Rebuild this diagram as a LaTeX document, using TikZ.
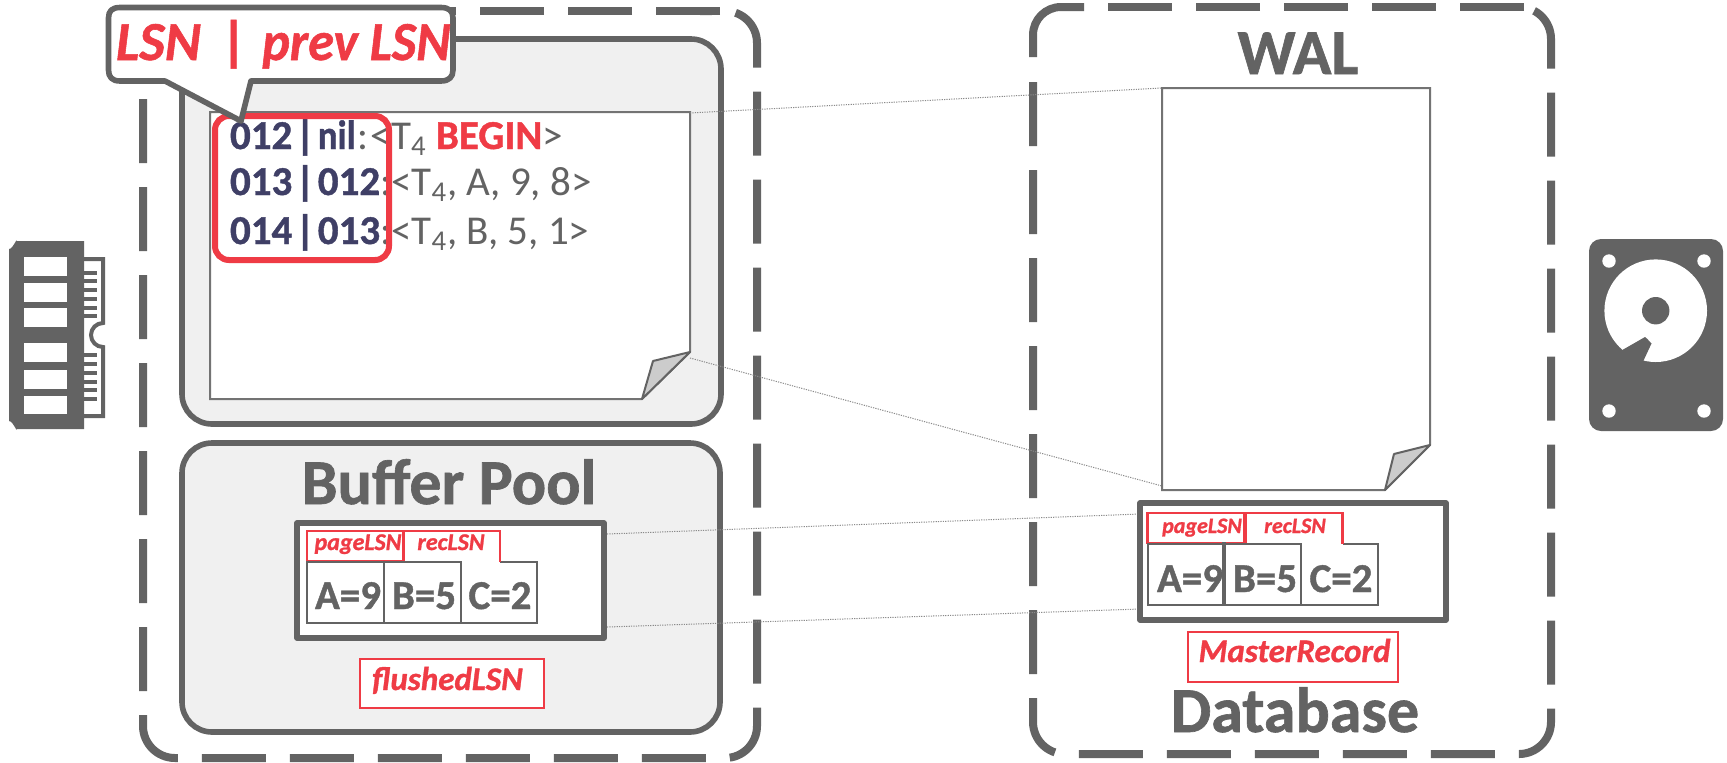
\documentclass[tikz,border=0pt]{standalone}
\usepackage{graphicx}
\usepackage{fontspec}
\setmainfont{Carlito}[BoldFeatures={FakeBold=1},BoldItalicFeatures={FakeBold=1}]
\definecolor{dk}{HTML}{636363}
\definecolor{lg}{HTML}{F0F0F0}
\definecolor{rd}{HTML}{EF3B45}
\definecolor{nv}{HTML}{3F3F66}
\definecolor{fold}{HTML}{CCCCCC}
\newcommand{\fs}[1]{\fontsize{#1}{#1}\selectfont}
\tikzset{
 txt/.style={inner sep=0pt,outer sep=0pt},
 outerdash/.style={draw=dk,line width=4pt,dash pattern=on 32pt off 12pt,rounded corners=16pt},
 panel/.style={draw=dk,line width=2.8pt,fill=lg,rounded corners=15pt},
 sheet/.style={draw=dk!90,line width=1pt,fill=white},
 foldflap/.style={draw=dk,line width=1pt,fill=fold,line join=round},
 pageframe/.style={draw=dk,line width=2.8pt,fill=white,line join=round},
 redtab/.style={draw=rd,line width=1.2pt},
 cell/.style={draw=dk,line width=1pt},
 dots/.style={draw=dk!75,line width=0.5pt,dash pattern=on 0.6pt off 0.6pt},
 cellval/.style={txt,anchor=base,text=dk,font=\fs{20.5}\bfseries},
 tabtxt/.style={txt,anchor=base,text=rd,font=\fs{12}\bfseries\itshape},
 tabtxtb/.style={txt,anchor=base,text=rd,font=\fs{11}\bfseries\itshape},
 redtxt/.style={txt,anchor=base,text=rd,font=\fs{16.5}\bfseries\itshape},
 title/.style={txt,anchor=base,text=dk,font=\fs{32}\bfseries},
 logtxt/.style={txt,anchor=base west,text=dk,font=\fs{20.5}},
}
\newcommand{\lsn}[1]{\textcolor{nv}{\bfseries #1}}
\newcommand{\vbarsep}{\kern1.5pt|\kern1.5pt}
\begin{document}
\begin{tikzpicture}[x=0.5pt,y=-0.5pt]
\useasboundingbox (0,0) rectangle (1727,762);
% outer dashed box, left
\draw[outerdash] (143,99) -- (143,758) -- (757,758) -- (757,11) -- (700,11);
\draw[draw=dk,line width=4pt,dash pattern=on 32pt off 12pt] (720,11) -- (392,11);
% outer dashed box, right
\draw[outerdash] (1033,82) -- (1033,754) -- (1551,754) -- (1551,7) -- (1515,7);
\draw[draw=dk,line width=4pt,dash pattern=on 32pt off 12pt] (1524,7) -- (1108,7);
\draw[draw=dk,line width=4pt,rounded corners=14pt] (1033,57) -- (1033,7) -- (1084,7);
% left log panel
\draw[panel] (182,39) rectangle (721,424);
\draw[sheet] (210,112) -- (690,112) -- (690,352) -- (642,399) -- (210,399) -- cycle;
\draw[foldflap] (690,352) -- (653,361) -- (642,399) -- cycle;
% buffer pool panel
\draw[panel] (182,443) rectangle (720,732);
\node[title] (bptitle) at (449,504) {Buffer Pool};
% dotted connectors
\coordinate (la) at (690,113); \coordinate (ra) at (1162,88);
\coordinate (lb) at (690,358); \coordinate (rb) at (1162,486);
\coordinate (lc) at (607,534); \coordinate (rc) at (1140,514);
\coordinate (ld) at (607,627); \coordinate (rd) at (1140,609);
\draw[dots] (la) -- (ra);
\draw[dots] (lb) -- (rb);
\draw[dots] (lc) -- (rc);
\draw[dots] (ld) -- (rd);
% memory page
\draw[pageframe] (297,523) rectangle (604,638);
\draw[cell] (460.5,562) rectangle (537,623);
\fill[white] (403.5,531) rectangle (500,563.5);
\draw[redtab] (403.5,531) -- (500,531) -- (500,562);
\draw[redtab,fill=white] (307,531) rectangle (403.5,561);
\draw[draw=rd,line width=1.8pt] (403.5,531) -- (403.5,561);
\draw[cell] (307,562) rectangle (384,623);
\draw[cell] (384,562) rectangle (460.5,623);
\node[cellval] (ma) at (348,609) {A=9};
\node[cellval] (mb) at (424,609) {B=5};
\node[cellval] (mc) at (500,609) {C=2};
\node[tabtxt] (mp) at (358,550) {pageLSN};
\node[tabtxt] (mr) at (451,550) {recLSN};
\node[draw=rd,line width=1.2pt,fill=white,minimum width=92pt,minimum height=24.5pt,inner sep=0pt] (flbox) at (452,683.5) {};
\node[redtxt] (fl) at (447.5,690) {flushedLSN};
% log text
\node[logtxt] (l1) at (230,149) {\lsn{012\vbarsep\scalebox{0.9}[1]{nil}}\kern1pt:\kern1pt<T\textsubscript{4} \textcolor{rd}{\bfseries BEGIN}>};
\node[logtxt] (l2) at (230,195) {\lsn{013\vbarsep 012}:<T\textsubscript{4}, A, 9, 8>};
\node[logtxt] (l3) at (230,244) {\lsn{014\vbarsep 013}:<T\textsubscript{4}, B, 5, 1>};
\draw[draw=rd,line width=3pt,rounded corners=7pt] (215,116) rectangle (389,260);
% callout
\draw[draw=dk,line width=2.8pt,fill=white,line join=round]
  (165,81) -- (120,81) .. controls (112,81) and (108.5,77) .. (108.5,70)
  -- (108.5,18) .. controls (108.5,11) and (112,7.5) .. (120,7.5)
  -- (441,7.5) .. controls (449,7.5) and (453,11) .. (453,18)
  -- (453,70) .. controls (453,77) and (449,81) .. (441,81)
  -- (251,81) -- (241,121) -- cycle;
\node[txt,anchor=base west,text=rd,font=\fs{27.5}\bfseries\itshape] (cl) at (116,60) {LSN\kern10.6pt|\kern7pt\scalebox{0.95}[1]{prev LSN}};
% WAL
\node[title] (wal) at (1298,74) {WAL};
\draw[sheet] (1162,88) -- (1430,88) -- (1430,445) -- (1385,490) -- (1162,490) -- cycle;
\draw[foldflap] (1430,445) -- (1394,454) -- (1385,490) -- cycle;
% disk page
\draw[pageframe] (1140,503) rectangle (1446,620);
\draw[cell] (1301,544) rectangle (1377.5,605);
\fill[white] (1245,513) rectangle (1342.5,545.5);
\draw[redtab] (1245,513) -- (1342.5,513) -- (1342.5,544);
\draw[redtab,fill=white] (1147.5,513) rectangle (1245,543);
\draw[draw=rd,line width=1.8pt] (1245,513) -- (1245,543);
\draw[cell] (1147.5,544) rectangle (1224,605);
\draw[cell] (1224,544) rectangle (1301,605);
\draw[draw=dk,line width=1.6pt] (1224,542) -- (1224,605);
\node[cellval] (da) at (1190,592) {A=9};
\node[cellval] (db) at (1265,592) {B=5};
\node[cellval] (dc) at (1341,592) {C=2};
\node[tabtxtb] (dp) at (1202,533) {pageLSN};
\node[tabtxtb] (dr) at (1295,533) {recLSN};
\node[draw=rd,line width=1.2pt,fill=white,minimum width=105pt,minimum height=25pt,inner sep=0pt] (mrbox) at (1293,657) {};
\node[redtxt] (mr2) at (1294.5,662) {MasterRecord};
\node[title] (dbt) at (1295,732) {Database};
% RAM icon
\fill[dk] (17,241) -- (84,241) -- (84,429) -- (17,429) to[out=-90,in=0] (9,421) -- (9,249) to[out=0,in=90] (17,241) -- cycle;
\foreach \a/\b in {257/276,283/302,308/327,343/362,370/389,396/414}
  \fill[white] (24,\a) rectangle (67,\b);
\draw[dk,line width=2pt] (84,259) -- (103,259) -- (103,323) arc[start angle=-90,end angle=-270,radius=12] -- (103,416) -- (84,416);
\foreach \a in {271,279,288,297,306,314,353,362,371,380,388,397}
  \fill[dk] (84,\a) rectangle (97,\a+4);
% HDD icon
\fill[dk,rounded corners=6pt] (1589,239) rectangle (1723,431);
\foreach \a/\b in {1609/261,1704/261,1609/411,1704/411}
  \fill[white] (\a,\b) circle[radius=6.7];
\fill[white] (1655.7,310.7) circle[radius=51.3];
\fill[dk] (1655.7,310.7) circle[radius=13.7];
\fill[dk] (1622.3,350) -- (1645,337) to[out=-30,in=-70] (1651.7,343) -- (1643.3,361) -- (1640,375) -- (1615,365) -- cycle;
\end{tikzpicture}
\end{document}
